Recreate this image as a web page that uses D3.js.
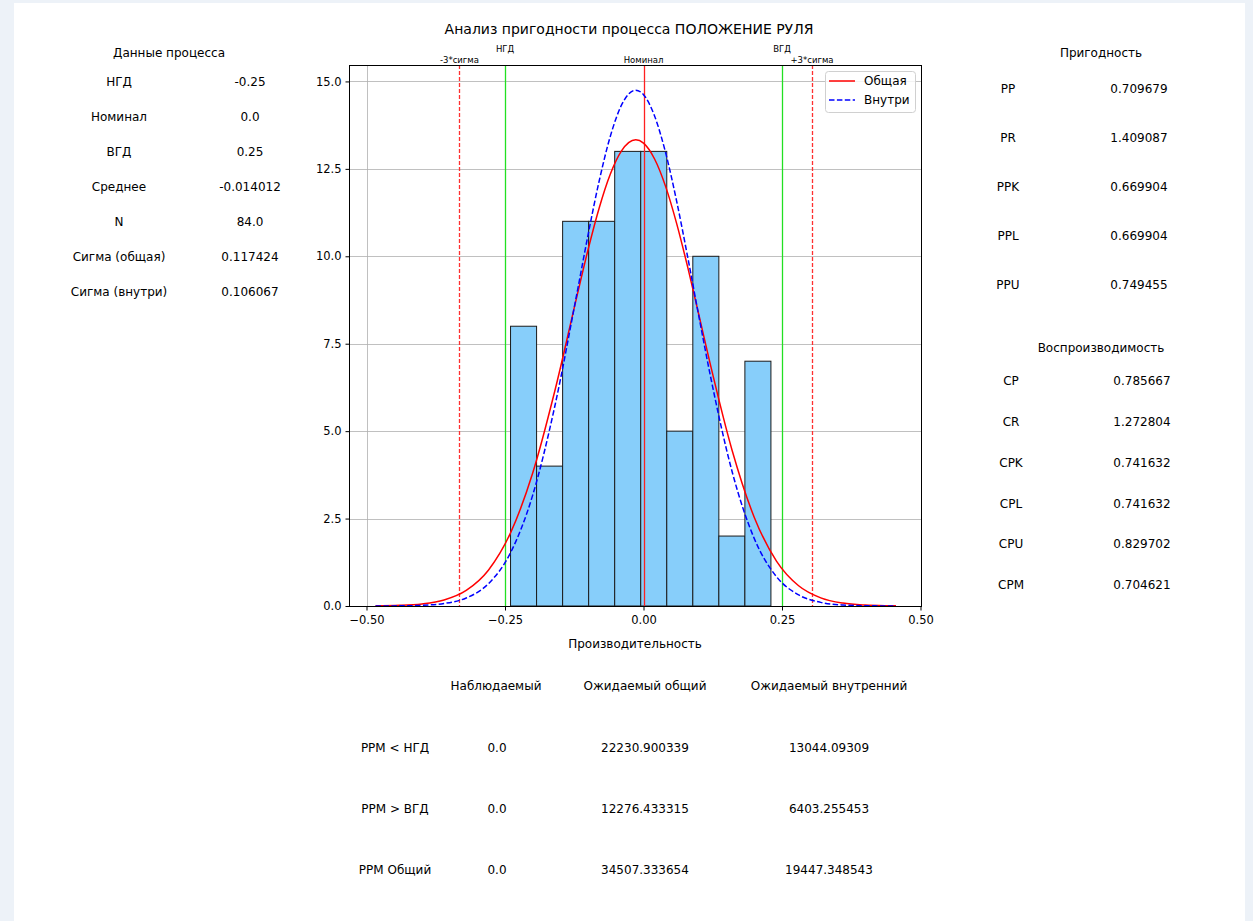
<!DOCTYPE html>
<html>
<head>
<meta charset="utf-8">
<script src="https://cdn.jsdelivr.net/npm/d3@7"></script>
<style>
    body { margin: 0; background: #edf2f8; }
    svg { display: block; font-family: "DejaVu Sans", sans-serif; }
</style>
</head>
<body>
<div id="chart"></div>
<script>
// histogram bins (left edges) and counts
var binStarts = [-0.24, -0.193, -0.146, -0.099, -0.052, -0.005, 0.042, 0.089, 0.136, 0.183];
var binWidth = 0.047;
var counts = [8, 4, 11, 11, 13, 13, 5, 10, 2, 7];

// fitted curves
var curveX = [-0.4837, -0.44, -0.40, -0.36, -0.32, -0.28, -0.24, -0.20, -0.16, -0.12, -0.10, -0.08, -0.06, -0.04, -0.014,
    0.0, 0.02, 0.04, 0.06, 0.08, 0.10, 0.12, 0.16, 0.20, 0.24, 0.28, 0.32, 0.36, 0.40, 0.44, 0.4557];
var overallY = [0.0045, 0.0185, 0.0601, 0.1736, 0.447, 1.0245, 2.092, 3.802, 6.154, 8.870, 10.195, 11.383, 12.346, 13.007, 13.33,
    13.235, 12.782, 11.992, 10.928, 9.675, 8.320, 6.950, 4.447, 2.533, 1.285, 0.580, 0.2333, 0.0836, 0.0266, 0.0076, 0.0044];
var withinY = [0.0008, 0.0046, 0.0196, 0.0722, 0.2299, 0.6356, 1.524, 3.170, 5.720, 8.953, 10.619, 12.154, 13.427, 14.314, 14.75,
    14.622, 14.011, 12.956, 11.563, 9.958, 8.278, 6.640, 3.839, 1.926, 0.839, 0.3166, 0.1036, 0.0294, 0.0072, 0.0015, 0.0008];

var legendNames = ["Общая", "Внутри"];

// reference lines
var specLines = [-0.25, 0.0, 0.25];
var specNames = ["НГД", "Номинал", "ВГД"];
var sigmaLines = [-0.332212, 0.304189];
var sigmaNames = ["-3*сигма", "+3*сигма"];

var xTicks = [-0.5, -0.25, 0, 0.25, 0.5];
var yTicks = [0, 2.5, 5, 7.5, 10, 12.5, 15];

// tables
var processLabels = ["НГД", "Номинал", "ВГД", "Среднее", "N", "Сигма (общая)", "Сигма (внутри)"];
var processValues = ["-0.25", "0.0", "0.25", "-0.014012", "84.0", "0.117424", "0.106067"];
var perfLabels = ["PP", "PR", "PPK", "PPL", "PPU"];
var perfValues = ["0.709679", "1.409087", "0.669904", "0.669904", "0.749455"];
var capLabels = ["CP", "CR", "CPK", "CPL", "CPU", "CPM"];
var capValues = ["0.785667", "1.272804", "0.741632", "0.741632", "0.829702", "0.704621"];
var ppmHeaders = ["Наблюдаемый", "Ожидаемый общий", "Ожидаемый внутренний"];
var ppmLabels = ["PPM < НГД", "PPM > ВГД", "PPM Общий"];
var ppmObserved = ["0.0", "0.0", "0.0"];
var ppmOverall = ["22230.900339", "12276.433315", "34507.333654"];
var ppmWithin = ["13044.09309", "6403.255453", "19447.348543"];

var w = 1253;
var h = 921;
var plotL = 349, plotR = 921, plotT = 65, plotB = 606;

var svg = d3.select("#chart")
    .append("svg")
    .attr("width", w)
    .attr("height", h);

svg.append("rect").attr("width", w).attr("height", h).attr("fill", "#edf2f8");
svg.append("rect").attr("x", 14).attr("y", 3).attr("width", 1231).attr("height", h - 3).attr("fill", "#ffffff");

var x = d3.scaleLinear().domain([-0.5316, 0.5009]).range([plotL, plotR]);
var y = d3.scaleLinear().domain([0, 15.47]).range([plotB, plotT]);

// pixel-snapped x for thin vertical lines
function sx(d) { return Math.round(x(d)) + 0.5; }

// grid
svg.append("g").selectAll("line")
    .data(xTicks)
    .enter()
    .append("line")
    .attr("x1", sx)
    .attr("x2", sx)
    .attr("y1", plotT).attr("y2", plotB)
    .attr("stroke", "#b0b0b0").attr("stroke-width", 0.8);
svg.append("g").selectAll("line")
    .data(yTicks)
    .enter()
    .append("line")
    .attr("y1", function(d) { return Math.round(y(d)) + 0.5; })
    .attr("y2", function(d) { return Math.round(y(d)) + 0.5; })
    .attr("x1", plotL).attr("x2", plotR)
    .attr("stroke", "#b0b0b0").attr("stroke-width", 0.8);

// bars
svg.append("g").selectAll("rect")
    .data(counts)
    .enter()
    .append("rect")
    .attr("x", function(d, i) { return x(binStarts[i]); })
    .attr("width", function(d, i) { return x(binStarts[i] + binWidth) - x(binStarts[i]); })
    .attr("y", function(d) { return y(d); })
    .attr("height", function(d) { return y(0) - y(d); })
    .attr("fill", "#87cefa")
    .attr("stroke", "#1a1a1a")
    .attr("stroke-width", 1);

// reference lines
svg.append("g").selectAll("line")
    .data(specLines)
    .enter()
    .append("line")
    .attr("x1", sx)
    .attr("x2", sx)
    .attr("y1", plotT).attr("y2", plotB)
    .attr("stroke", function(d) { return d === 0 ? "#ff2020" : "#22e022"; })
    .attr("stroke-width", 1.3);
svg.append("g").selectAll("line")
    .data(sigmaLines)
    .enter()
    .append("line")
    .attr("x1", sx)
    .attr("x2", sx)
    .attr("y1", plotT).attr("y2", plotB)
    .attr("stroke", "#ff3030")
    .attr("stroke-width", 1.3)
    .attr("stroke-dasharray", "4,2");

// curves
var line = d3.line()
    .x(function(d) { return x(d[0]); })
    .y(function(d) { return y(d[1]); })
    .curve(d3.curveMonotoneX);

svg.append("path")
    .datum(d3.zip(curveX, overallY))
    .attr("d", line)
    .attr("fill", "none")
    .attr("stroke", "#ff0000")
    .attr("stroke-width", 1.5);
svg.append("path")
    .datum(d3.zip(curveX, withinY))
    .attr("d", line)
    .attr("fill", "none")
    .attr("stroke", "#0000ff")
    .attr("stroke-width", 1.5)
    .attr("stroke-dasharray", "5.5,2.4");

// frame
svg.append("rect")
    .attr("x", plotL + 0.5).attr("y", plotT + 0.5)
    .attr("width", plotR - plotL).attr("height", plotB - plotT)
    .attr("fill", "none").attr("stroke", "#000").attr("stroke-width", 1);

// axes
var xAxis = svg.append("g")
    .attr("transform", "translate(0," + (plotB + 0.5) + ")")
    .call(d3.axisBottom(x).tickValues(xTicks).tickSize(4).tickPadding(5)
        .tickFormat(function(d) { return d3.format(".2f")(d).replace("-", "\u2212"); }));
var yAxis = svg.append("g")
    .attr("transform", "translate(" + (plotL + 0.5) + ",0)")
    .call(d3.axisLeft(y).tickValues(yTicks).tickSize(4).tickPadding(4).tickFormat(d3.format(".1f")));
[xAxis, yAxis].forEach(function(a) {
    a.select(".domain").remove();
    a.selectAll("text").attr("font-size", "11.5px").attr("fill", "#000").attr("font-family", "DejaVu Sans");
    a.selectAll("line").attr("stroke", "#000");
});

svg.append("text")
    .attr("x", 635).attr("y", 648)
    .attr("text-anchor", "middle").attr("font-size", "12px")
    .text("Производительность");

// labels above the plot
svg.append("g").selectAll("text")
    .data(specLines)
    .enter()
    .append("text")
    .attr("x", function(d) { return x(d); })
    .attr("y", function(d) { return d === 0 ? 63 : 52; })
    .attr("text-anchor", "middle").attr("font-size", "8.5px")
    .text(function(d, i) { return specNames[i]; });
svg.append("g").selectAll("text")
    .data(sigmaLines)
    .enter()
    .append("text")
    .attr("x", function(d) { return x(d); })
    .attr("y", 63)
    .attr("text-anchor", "middle").attr("font-size", "8.5px")
    .text(function(d, i) { return sigmaNames[i]; });

svg.append("text")
    .attr("x", 629).attr("y", 34)
    .attr("text-anchor", "middle").attr("font-size", "14px")
    .text("Анализ пригодности процесса ПОЛОЖЕНИЕ РУЛЯ");

// legend
var legend = svg.append("g");
legend.append("rect")
    .attr("x", 825.5).attr("y", 71.5).attr("width", 90).attr("height", 41).attr("rx", 3)
    .attr("fill", "#fff").attr("fill-opacity", 0.8).attr("stroke", "#d0d0d0");
legend.selectAll("line")
    .data(legendNames)
    .enter()
    .append("line")
    .attr("x1", 829).attr("x2", 855)
    .attr("y1", function(d, i) { return 81 + i * 19; })
    .attr("y2", function(d, i) { return 81 + i * 19; })
    .attr("stroke", function(d, i) { return i === 0 ? "#ff0000" : "#0000ff"; })
    .attr("stroke-width", 1.5)
    .attr("stroke-dasharray", function(d, i) { return i === 0 ? null : "5.5,2.4"; });
legend.selectAll("text")
    .data(legendNames)
    .enter()
    .append("text")
    .attr("x", 864)
    .attr("y", function(d, i) { return 81 + i * 19; })
    .attr("dy", "0.35em").attr("font-size", "12px")
    .text(function(d) { return d; });

// table helper
function column(labels, cx, y0, step) {
    svg.append("g").selectAll("text")
        .data(labels)
        .enter()
        .append("text")
        .attr("x", cx)
        .attr("y", function(d, i) { return y0 + i * step; })
        .attr("dy", "0.35em")
        .attr("text-anchor", "middle")
        .attr("font-size", "12px")
        .text(function(d) { return d; });
}

column(["Данные процесса"], 169, 53, 0);
column(processLabels, 119, 82, 35);
column(processValues, 250, 82, 35);

column(["Пригодность"], 1101, 53, 0);
column(perfLabels, 1008, 89, 49);
column(perfValues, 1139, 89, 49);

column(["Воспроизводимость"], 1101, 348, 0);
column(capLabels, 1011, 381, 40.8);
column(capValues, 1142, 381, 40.8);

column([ppmHeaders[0]], 496, 686, 0);
column([ppmHeaders[1]], 645, 686, 0);
column([ppmHeaders[2]], 829, 686, 0);
column(ppmLabels, 395, 748, 61);
column(ppmObserved, 497, 748, 61);
column(ppmOverall, 645, 748, 61);
column(ppmWithin, 829, 748, 61);
</script>
</body>
</html>
